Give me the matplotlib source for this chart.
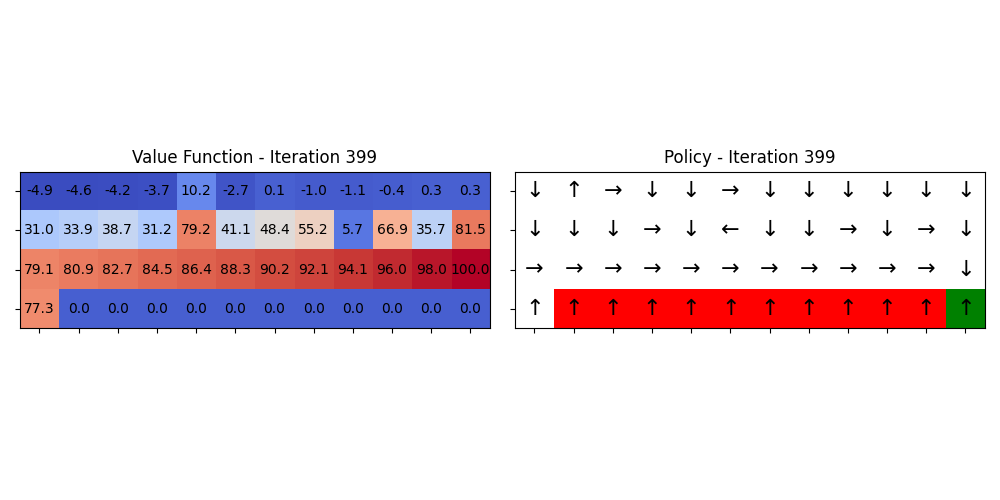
import numpy as np
import matplotlib
matplotlib.use('Agg')
import matplotlib.pyplot as plt
from matplotlib.colors import ListedColormap
from matplotlib.patches import Rectangle

# Value function from the last iteration
values = np.array([
    [-4.9, -4.6, -4.2, -3.7, 10.2, -2.7, 0.1, -1.0, -1.1, -0.4, 0.3, 0.3],
    [31.0, 33.9, 38.7, 31.2, 79.2, 41.1, 48.4, 55.2, 5.7, 66.9, 35.7, 81.5],
    [79.1, 80.9, 82.7, 84.5, 86.4, 88.3, 90.2, 92.1, 94.1, 96.0, 98.0, 100.0],
    [77.3, 0.0, 0.0, 0.0, 0.0, 0.0, 0.0, 0.0, 0.0, 0.0, 0.0, 0.0],
])

policy = [
    list('↓↑→↓↓→↓↓↓↓↓↓'),
    list('↓↓↓→↓←↓↓→↓→↓'),
    list('→→→→→→→→→→→↓'),
    list('↑↑↑↑↑↑↑↑↑↑↑↑'),
]

cliff_cols = [1, 2, 3, 4, 5, 6, 7, 8, 9, 10]
goal_col = 11
bottom_row = 3

iteration = 399

fig, (ax1, ax2) = plt.subplots(1, 2, figsize=(10, 5))

ax1.imshow(values, cmap='coolwarm')
for i in range(values.shape[0]):
    for j in range(values.shape[1]):
        ax1.text(j, i, f'{values[i, j]:.1f}', ha='center', va='center', color='black', fontsize=10)
ax1.set_title(f'Value Function - Iteration {iteration}')
ax1.set_xticks(np.arange(12))
ax1.set_yticks(np.arange(4))
ax1.set_xticklabels([])
ax1.set_yticklabels([])

ax2.imshow(np.zeros((4, 12)), cmap=ListedColormap(['white']))
for j in cliff_cols:
    ax2.add_patch(Rectangle((j - 0.5, bottom_row - 0.5), 1, 1, facecolor='red', edgecolor='none'))
ax2.add_patch(Rectangle((goal_col - 0.5, bottom_row - 0.5), 1, 1, facecolor='green', edgecolor='none'))
for i in range(4):
    for j in range(12):
        ax2.text(j, i, policy[i][j], ha='center', va='center', color='black', fontsize=16)
ax2.set_title(f'Policy - Iteration {iteration}')
ax2.set_xticks(np.arange(12))
ax2.set_yticks(np.arange(4))
ax2.set_xticklabels([])
ax2.set_yticklabels([])

plt.tight_layout()
plt.savefig('out.png', dpi=100)
